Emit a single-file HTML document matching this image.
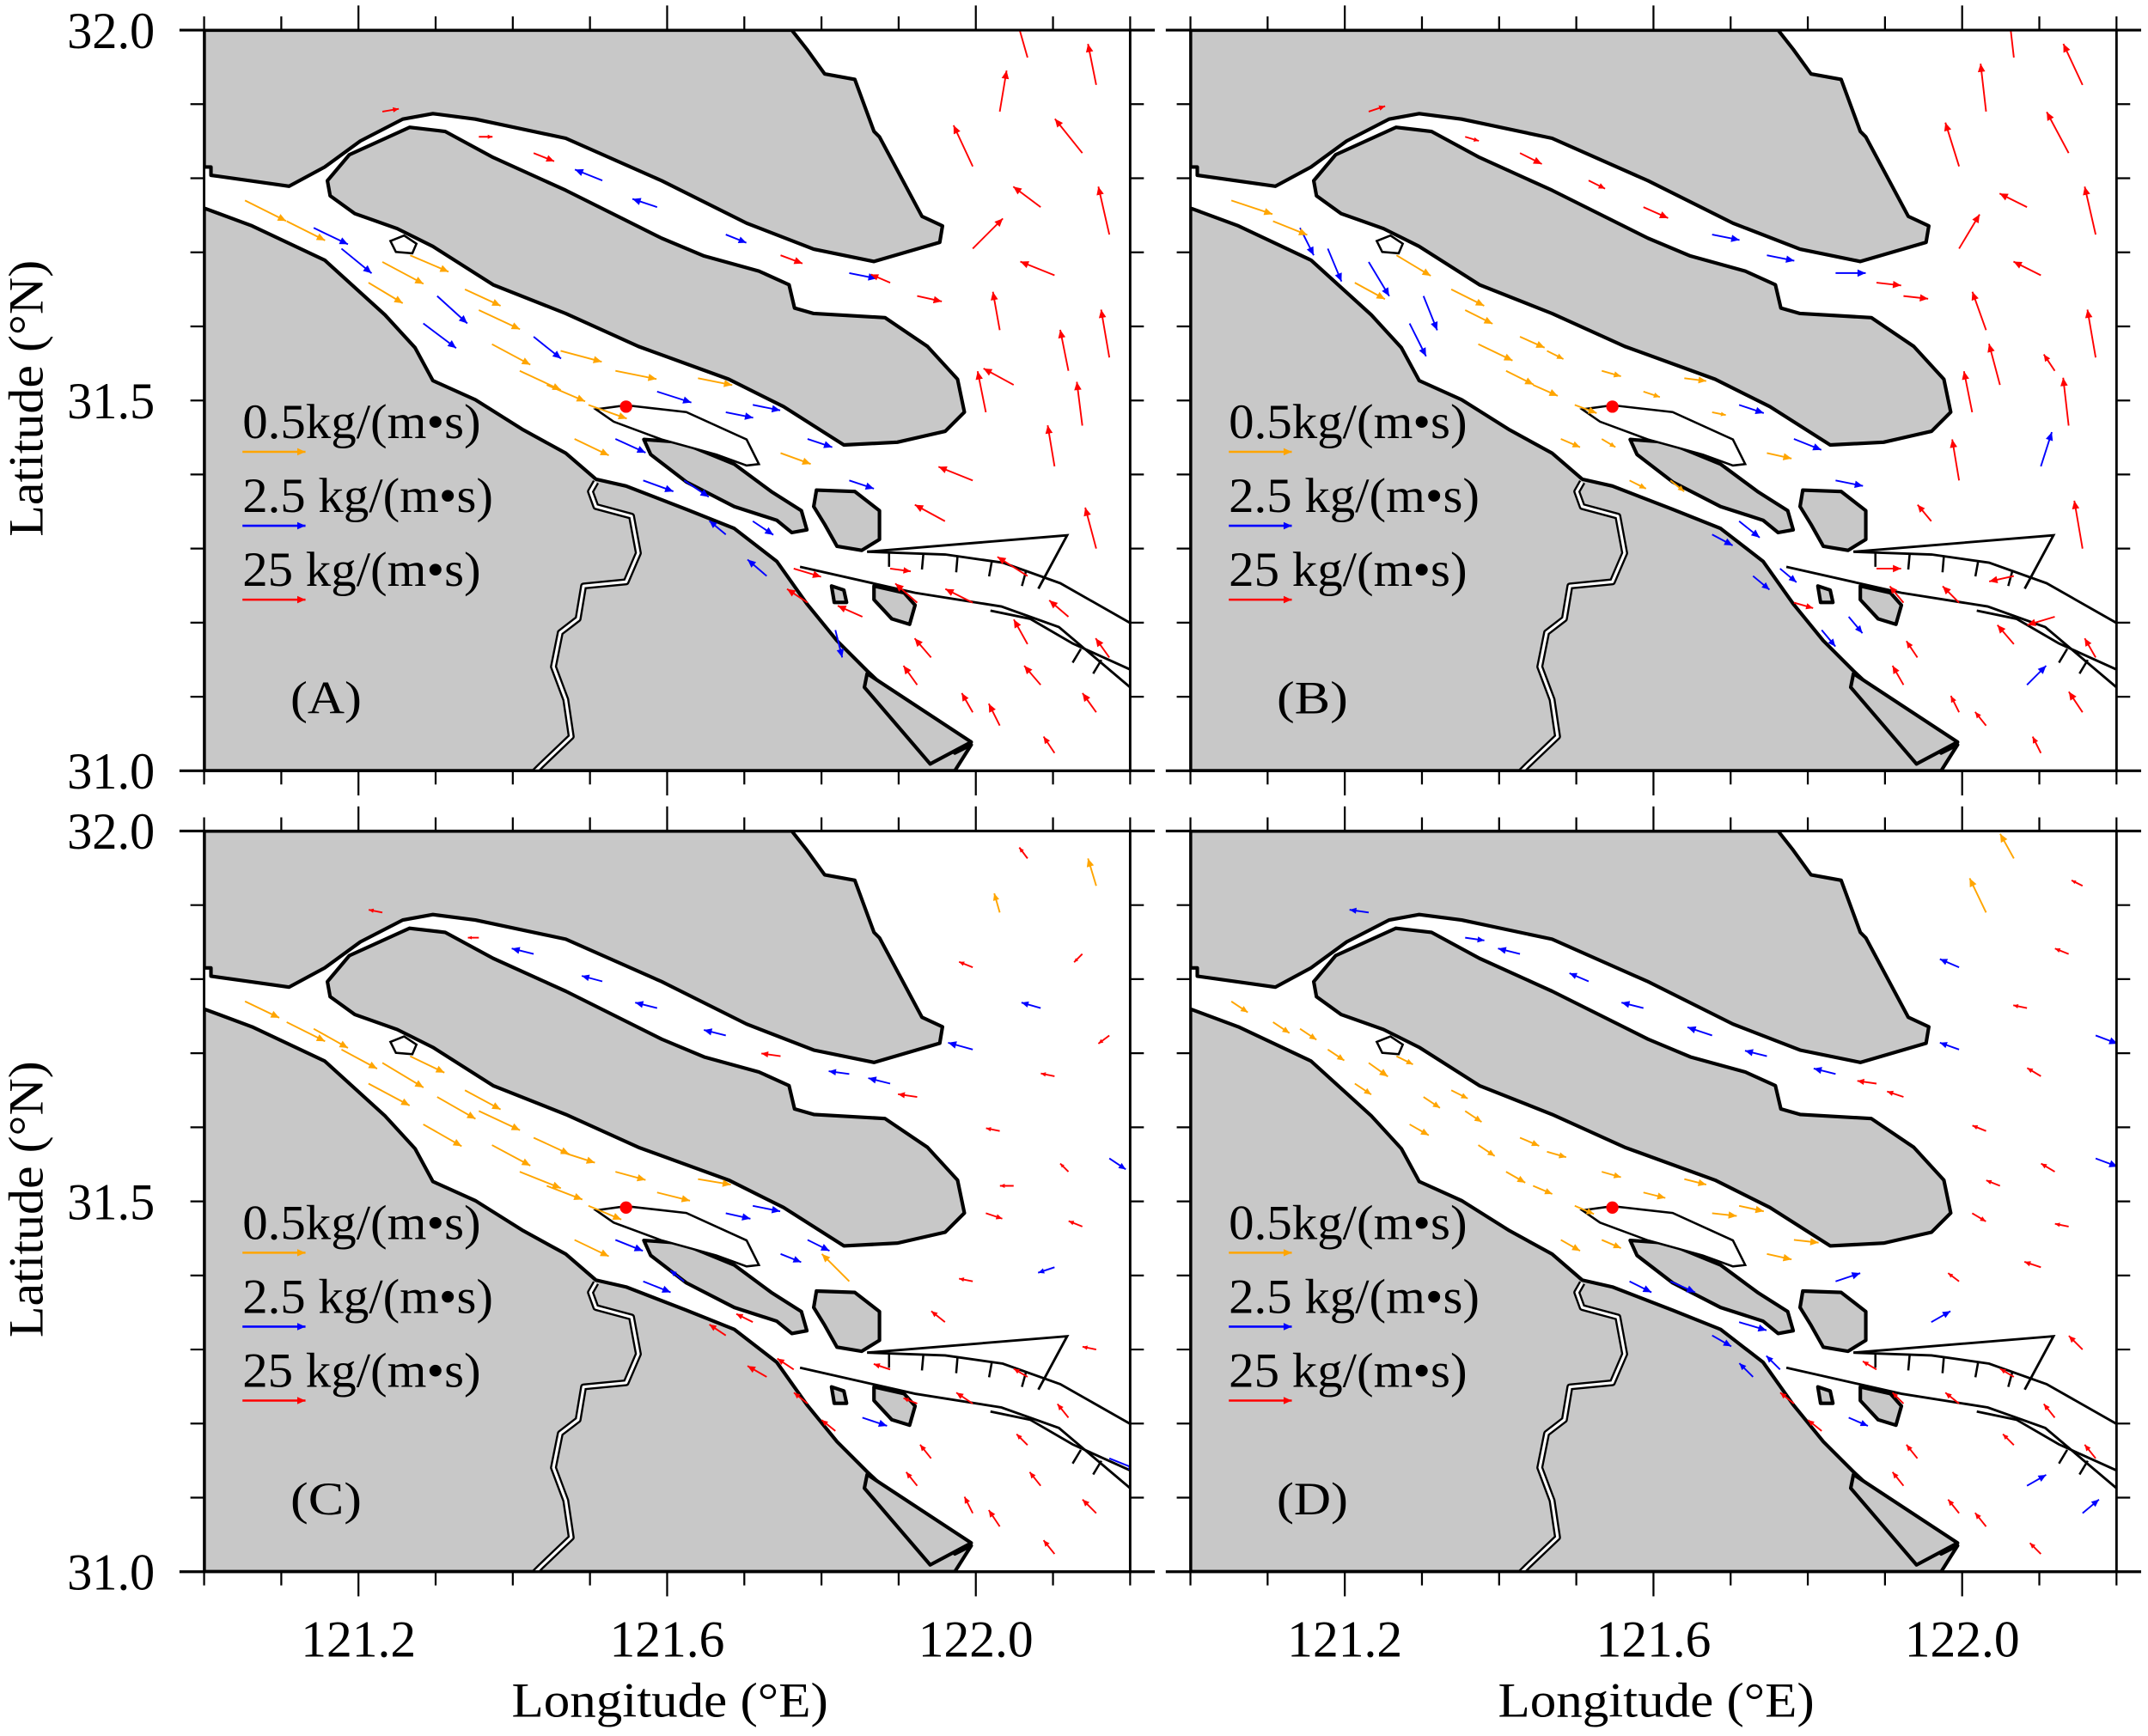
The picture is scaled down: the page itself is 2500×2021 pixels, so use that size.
<!DOCTYPE html>
<html>
<head>
<meta charset="utf-8">
<style>
html,body{margin:0;padding:0;background:#fff;}
svg{display:block;}
text{font-family:"Liberation Serif","DejaVu Serif",serif;fill:#000;}
</style>
</head>
<body>
<svg id="fig" xmlns="http://www.w3.org/2000/svg" width="2500" height="2021" viewBox="0 0 1568 1268" preserveAspectRatio="none">
  <rect x="0" y="0" width="1568" height="1268" fill="#fff"/>
  <g id="panels"></g>
  <text x="31" y="291" font-size="36" text-anchor="middle" transform="rotate(-90 31 291)" textLength="202" lengthAdjust="spacingAndGlyphs">Latitude (°N)</text>
  <text x="31" y="876" font-size="36" text-anchor="middle" transform="rotate(-90 31 876)" textLength="202" lengthAdjust="spacingAndGlyphs">Latitude (°N)</text>
  <text x="489" y="1254" font-size="36" text-anchor="middle" textLength="231" lengthAdjust="spacingAndGlyphs">Longitude (°E)</text>
  <text x="1209" y="1254" font-size="36" text-anchor="middle" textLength="231" lengthAdjust="spacingAndGlyphs">Longitude (°E)</text>
</svg>
<script>
// ---- data arrays ----
const lonTicks = [121.0,121.1,121.2,121.3,121.4,121.5,121.6,121.7,121.8,121.9,122.0,122.1,122.2];
const lonLabels = ["121.2","121.6","122.0"];
const lonLabelVals = [121.2,121.6,122.0];
const latTicks = [31.0,31.1,31.2,31.3,31.4,31.5,31.6,31.7,31.8,31.9,32.0];
const latLabels = ["31.0","31.5","32.0"];
const latLabelVals = [31.0,31.5,32.0];

const posLon = [121.053,121.142,121.231,121.302,121.267,121.373,121.356,121.444,121.462,121.533,121.587,121.676,121.622,121.711,121.747,121.764,121.818,121.889,121.356,121.516,121.676,121.836,121.924,122.031,122.138,121.996,122.102,122.173,122.049,122.102,121.996,122.156,121.960,122.067,121.942,122.156,122.031,121.924,122.120,121.836,
 121.107,121.178,121.213,121.284,121.338,121.409,121.427,121.498,121.480,121.569,121.533,121.640,121.711,121.782,121.676,121.729,121.782,121.853,
 121.231,121.427,121.587,121.747,121.889,
 122.067,122.156,121.996,122.084,122.173,122.031,122.138,122.013,122.067,121.996,122.120,121.924,121.996,122.084,122.173,122.102];
const posLat = [31.770,31.733,31.687,31.641,31.696,31.576,31.622,31.521,31.567,31.448,31.512,31.484,31.392,31.337,31.429,31.273,31.190,31.273,31.856,31.797,31.724,31.672,31.641,31.890,31.834,31.705,31.669,31.558,31.521,31.411,31.392,31.300,31.337,31.171,31.153,31.079,31.061,31.227,31.540,31.392,
 31.742,31.705,31.659,31.604,31.650,31.540,31.586,31.494,31.448,31.392,31.540,31.530,31.494,31.448,31.319,31.263,31.227,31.208,
 31.890,31.834,31.761,31.696,31.659,
 31.963,31.926,31.816,31.761,31.724,31.595,31.466,31.484,31.263,31.227,31.208,31.116,31.079,31.116,31.153,31.024];

const cA = [0,1,0,1,0, 0,0,0,0, 1,1,1,1,1,0, 2,1,2, 2,1,1,1,2, 2,2,2,2,2,2,2,2,2,2,2,2,2,2,2,2,1,
 0,1,0,1,0,0,1,0,0,1,0,0,1,1,1,1,2,2, 2,2,1,2,2, 2,2,2,2,2,2,2,2,2,2,2,2,2,2,2,2];
const uA = [30,25,30,22,28, 28,30,28,30, 22,25,20,18,15,22, 20,5,15, 10,-20,15,20,18, 5,-20,22,-25,-6,-22,-5,-25,-8,-22,-10,-12,-10,-8,-16,-6,18,
 28,22,25,24,26,30,20,28,25,22,30,25,20,18,-12,-14,-15,-18, 12,15,-18,16,-14, -10,-6,-14,-20,-8,-5,-4,-6,-22,-20,-14,-10,-8,-12,-10,-8];
const vA = [-15,-12,-16,-20,-12, -15,-14,-12,-8, -10,-8,-4,-12,-10,-8, -6,-20,-2, 0,8,-6,-4,-4, 30,25,22,10,35,12,30,10,30,12,18,14,14,16,14,30,-6,
 -14,-18,-15,-18,-12,-14,-16,-10,-12,-8,-6,-5,-4,-6,10,12,10,8, 2,-6,6,-6,6, 35,30,30,15,35,28,32,30,14,10,12,14,14,14,14,12];

const cB = [0,1,1,1,0, 0,0,0,0, 0,0,0,0,1,0, 1,1,2, 2,2,1,1,2, 2,2,2,2,2,2,1,2,2,2,2,2,2,2,2,2,1,
 0,1,0,1,0,0,0,0,0,0,0,0,1,1,1,1,2,1, 2,2,2,1,2, 2,2,2,2,2,2,2,2,2,2,2,2,2,1,2,2];
const uB = [30,10,15,10,25, 25,20,18,12, 10,12,10,10,15,18, 12,10,18, 10,12,20,22,18, -4,-16,15,-20,-6,-8,8,-5,-6,-10,-12,-8,-10,-8,-10,-8,20,
 25,10,22,12,24,20,18,16,14,12,14,16,18,20,15,12,14,10, 12,16,18,20,18, -4,-14,-10,-20,-8,-10,-4,-6,-18,-12,-20,-8,-6,14,-8,-6];
const vB = [-10,-20,-25,-25,-15, -12,-10,-8,-6, -6,-4,-2,-8,-12,-4, -10,-12,0, -3,-6,-4,0,-2, 35,30,25,10,35,30,25,30,35,12,14,12,15,10,12,12,-4,
 -10,-24,-12,-24,-12,-10,-8,-6,-6,-6,-4,-2,-6,-8,-8,-10,-4,-12, 4,-8,-8,-4,-2, 35,30,32,10,35,28,35,30,-4,12,-6,14,12,14,14,12];

const cC = [0,0,0,0,0, 0,0,0,0, 1,0,1,1,2,1, 2,2,2, 2,1,1,1,2, 0,2,1,2,1,2,1,2,2,2,2,2,2,2,2,2,0,
 0,0,0,0,0,0,0,0,0,1,0,0,1,1,2,2,2,1, 2,1,1,2,1, 2,0,2,1,2,2,2,2,2,2,2,2,2,2,1,2];
const uC = [25,25,30,28,25, 28,30,26,25, 20,24,18,-10,-12,15, -12,-10,-12, -8,-15,-16,-15,-14, -4,-6,-18,-10,12,-10,-12,-10,-10,-10,-8,-8,-10,-8,-10,-6,-20,
 28,26,30,28,26,30,26,24,25,20,22,24,20,16,-12,-14,-10,18, -10,-16,-16,-14,-16, -6,-6,-10,-14,-8,-10,-10,12,-10,-12,-8,-8,-6,-8,20,-8];
const vC = [-12,-14,-18,-16,-12, -15,-14,-10,-8, -8,-6,-4,8,6,-6, 8,8,4, 0,4,4,2,2, 14,-6,5,2,-8,0,-4,2,2,8,8,10,10,12,4,6,20,
 -14,-14,-16,-16,-14,-12,-12,-10,-12,-8,-6,-4,-4,-8,8,8,8,-6, 2,4,4,2,4, 8,20,4,4,-6,2,4,-4,6,8,10,10,12,10,-8,10];

const cD = [0,0,0,0,0, 0,0,0,0, 0,0,0,1,1,0, 1,2,2, 1,1,1,1,2, 0,2,1,2,1,2,2,2,2,1,2,2,1,2,2,2,1,
 0,0,0,0,0,0,0,0,0,1,0,0,0,0,1,1,2,1, 1,1,1,1,2, 0,2,1,2,1,2,2,2,2,2,2,2,2,1,2,2];
const uD = [12,12,14,12,12, 12,12,14,14, 14,16,18,18,20,18, -10,-10,-10, 14,-14,-18,-16,-12, -12,-10,-14,-10,16,-10,-12,-8,-10,14,-8,-8,12,-8,-8,-10,18,
 12,12,12,14,12,14,14,14,14,16,14,16,18,18,14,-10,-10,14, -14,-16,-16,-16,-14, -10,-8,-14,-10,16,-10,-10,10,-10,-10,-8,-8,-8,14,-8,-8];
const vD = [-8,-8,-10,-8,-6, -8,-8,-6,-4, -6,-4,-2,-8,-6,-4, 10,8,6, -2,6,6,4,4, 25,4,5,6,-6,4,4,6,10,8,8,10,10,10,8,6,6,
 -8,-8,-8,-8,-6,-8,-6,-6,-8,-8,-4,-4,-4,-2,-8,10,8,-6, 2,4,4,4,2, 18,4,6,2,-6,4,2,-6,6,8,10,10,10,8,10,8];

const legendTexts = ["0.5kg/(m\u2022s)","2.5 kg/(m\u2022s)","25 kg/(m\u2022s)"];

// ---- geometry ----
const NS = "http://www.w3.org/2000/svg";
const PW = 676, PH = 541;
const colors = ["#FFA500","#0000FF","#FF0000"];
function xs(lon){ return (lon-121.0)/1.2*PW; }
function ys(lat){ return (32.0-lat)*PH; }
function mk(tag, attrs, parent){
  const e = document.createElementNS(NS, tag);
  for (const k in attrs) e.setAttribute(k, attrs[k]);
  if (parent) parent.appendChild(e);
  return e;
}
function poly(pts){ return "M" + pts.map(p=>p[0]+","+p[1]).join(" L") + " Z"; }
function line(pts){ return "M" + pts.map(p=>p[0]+","+p[1]).join(" L"); }

const northLand = [[0,0],[429,0],[440,14],[453,32],[475,36],[489,74],[493,78],[524,136],[539,143],[537,155],[489,169],[445,160],[396,141],[334,110],[264,79],[198,65],[167,61],[145,65],[114,81],[88,100],[62,114],[5,106],[5,100],[0,100]];
const chongming = [[90,110],[106,91],[150,71],[176,74],[211,93],[264,117],[334,152],[365,165],[405,176],[427,186],[431,203],[445,207],[497,210],[528,231],[550,255],[555,279],[541,293],[506,301],[467,303],[423,275],[383,255],[317,231],[264,207],[211,186],[167,158],[141,145],[110,134],[92,121]];
const southLand = [[0,130],[35,143],[88,168],[132,208],[154,232],[167,256],[198,270],[233,292],[264,309],[286,328],[308,333],[352,350],[387,364],[418,388],[440,419],[462,446],[484,468],[548,528],[560,522],[548,541],[0,541]];
const wedge = [[484,470],[560,520],[530,536],[482,480]];
const sandbar = [[286,277],[308,274],[352,279],[396,299],[405,317],[396,318],[374,310],[334,299],[299,286]];
const changxing = [[321,299],[348,301],[387,317],[414,337],[436,351],[440,365],[429,367],[418,358],[387,348],[352,330],[326,310]];
const hengsha = [[447,336],[475,337],[493,351],[493,372],[480,380],[462,377],[453,361],[445,348]];
const isl1 = [[458,406],[467,409],[469,418],[460,418]];
const isl2 = [[489,406],[511,411],[519,420],[515,434],[502,430],[489,416]];
const islN = [[136,154],[146,150],[155,156],[152,163],[140,162]];
const huangpu = [[286,330],[282,337],[286,348],[312,355],[317,382],[308,403],[277,406],[273,430],[260,440],[255,465],[264,489],[268,516],[246,537],[238,545]];
const dikeN = [[484,381],[630,369],[609,408]];
const dike1 = [[484,381],[541,383],[583,389],[625,404],[676,433]];
const dike2 = [[435,392],[519,411],[582,421],[624,436],[676,480]];
const dike3 = [[574,424],[603,430],[634,448],[676,467]];

const panelIds = ["A","B","C","D"];
const panelOX = [149,869,149,869];
const panelOY = [22,22,607,607];
const dataC = [cA,cB,cC,cD], dataU = [uA,uB,uC,uD], dataV = [vA,vB,vC,vD];

const root = document.getElementById("panels");

function arrow(g, x, y, u, v, col, w){
  const x2 = x+u, y2 = y-v;
  const L = Math.hypot(u,v) || 1;
  const ux = u/L, uy = -v/L;
  const hs = Math.min(6, L*0.35);
  const a = mk("g", {}, g);
  
  
  mk("line", {x1:x, y1:y, x2:x2, y2:y2, stroke:col, "stroke-width":w}, a);
  const bx = x2 - ux*hs, by = y2 - uy*hs;
  const px = -uy*hs*0.45, py = ux*hs*0.45;
  mk("polygon", {points: x2+","+y2+" "+(bx+px)+","+(by+py)+" "+(bx-px)+","+(by-py), fill:col}, a);
}

for (let p=0; p<4; p++){
  const ox = panelOX[p], oy = panelOY[p];
  const g = mk("g", {transform:"translate("+ox+","+oy+")"}, root);
  
  
  const cp = mk("clipPath", {id:"clip"+p}, g);
  mk("rect", {x:0, y:0, width:PW, height:PH}, cp);
  const map = mk("g", {"clip-path":"url(#clip"+p+")"}, g);
  
  
  const land = {fill:"#C8C8C8", stroke:"#000", "stroke-width":2.6, "stroke-linejoin":"round"};
  const nl = mk("path", Object.assign({d:poly(northLand)}, land), map);
  
  
  const sl = mk("path", Object.assign({d:poly(southLand)}, land), map);
  
  
  const cm = mk("path", Object.assign({d:poly(chongming)}, land), map);
  
  
  const wd = mk("path", Object.assign({d:poly(wedge)}, land), map);
  
  
  const cx = mk("path", Object.assign({d:poly(changxing)}, land), map);
  
  
  const hs = mk("path", Object.assign({d:poly(hengsha)}, land), map);
  
  
  mk("path", Object.assign({d:poly(isl1)}, land), map);
  mk("path", Object.assign({d:poly(isl2)}, land), map);
  mk("path", {d:poly(islN), fill:"#fff", stroke:"#000", "stroke-width":1.6}, map);
  const sb = mk("path", {d:poly(sandbar), fill:"#fff", stroke:"#000", "stroke-width":1.6}, map);
  
  
  mk("path", {d:line(huangpu), fill:"none", stroke:"#000", "stroke-width":5, "stroke-linejoin":"round"}, map);
  const hp = mk("path", {d:line(huangpu), fill:"none", stroke:"#fff", "stroke-width":2, "stroke-linejoin":"round"}, map);
  
  
  [dikeN, dike1, dike2, dike3].forEach(d=>{
    mk("path", {d:line(d), fill:"none", stroke:"#000", "stroke-width":1.8}, map);
  });
  [[500,382,500,392],[525,383,524,394],[550,384,549,396],[575,388,573,399],[600,395,597,406]].forEach(t=>{
    mk("line", {x1:t[0], y1:t[1], x2:t[2], y2:t[3], stroke:"#000", "stroke-width":1.6}, map);
  });
  [[640,452,634,462],[655,460,649,470]].forEach(t=>{
    mk("line", {x1:t[0], y1:t[1], x2:t[2], y2:t[3], stroke:"#000", "stroke-width":1.6}, map);
  });
  const arrows = mk("g", {}, map);
  
  
  const C = dataC[p], U = dataU[p], V = dataV[p];
  for (let i=0; i<posLon.length; i++){
    arrow(arrows, xs(posLon[i]), ys(posLat[i]), U[i], V[i], colors[C[i]], 1.2);
  }
  const dot = mk("circle", {cx:308, cy:275, r:4.5, fill:"#FF0000"}, map);
  
  
  const lg = mk("g", {}, g);
  
  
  const base = [298,352,406], widths = [174,183,174];
  for (let k=0;k<3;k++){
    const t = mk("text", {x:28, y:base[k], "font-size":36, textLength:widths[k], lengthAdjust:"spacingAndGlyphs"}, lg);
    t.textContent = legendTexts[k];
    
    
    arrow(lg, 28, base[k]+10, 46, 0, colors[k], 1.6);
  }
  const pl = mk("text", {x:63, y:499, "font-size":34, textLength:52, lengthAdjust:"spacingAndGlyphs"}, g);
  pl.textContent = "("+panelIds[p]+")";
  
  
  const fr = mk("rect", {x:0, y:0, width:PW, height:PH, fill:"none", stroke:"#000", "stroke-width":1.8}, g);
  
  
  mk("line", {x1:-18, y1:PH, x2:PW+18, y2:PH, stroke:"#000", "stroke-width":2}, g);
  mk("line", {x1:-18, y1:0, x2:PW+18, y2:0, stroke:"#000", "stroke-width":2}, g);
  const ax = mk("g", {stroke:"#000", "stroke-width":1.4}, g);
  
  
  lonTicks.forEach((lv,i)=>{
    const x = xs(lv), len = (i%2===0 && lv>121.05 && lv<122.15 && Math.round(lv*10)%4===0) ? 18 : 10;
    mk("line", {x1:x, y1:0, x2:x, y2:-len}, ax);
    mk("line", {x1:x, y1:PH, x2:x, y2:PH+len}, ax);
  });
  latTicks.forEach((lv,i)=>{
    const y = ys(lv), len = 10;
    mk("line", {x1:0, y1:y, x2:-len, y2:y}, ax);
    mk("line", {x1:PW, y1:y, x2:PW+len, y2:y}, ax);
  });
  if (p%2===0){
    latLabelVals.forEach((lv,i)=>{
      const t = mk("text", {x:-36, y:ys(lv)+13, "font-size":38, "text-anchor":"end", textLength:64, lengthAdjust:"spacingAndGlyphs"}, g);
      t.textContent = latLabels[i];
      
      
    });
  }
  if (p>=2){
    lonLabelVals.forEach((lv,i)=>{
      const t = mk("text", {x:xs(lv), y:PH+62, "font-size":38, "text-anchor":"middle", textLength:84, lengthAdjust:"spacingAndGlyphs"}, g);
      t.textContent = lonLabels[i];
      
      
    });
  }
}
</script>
</body>
</html>
